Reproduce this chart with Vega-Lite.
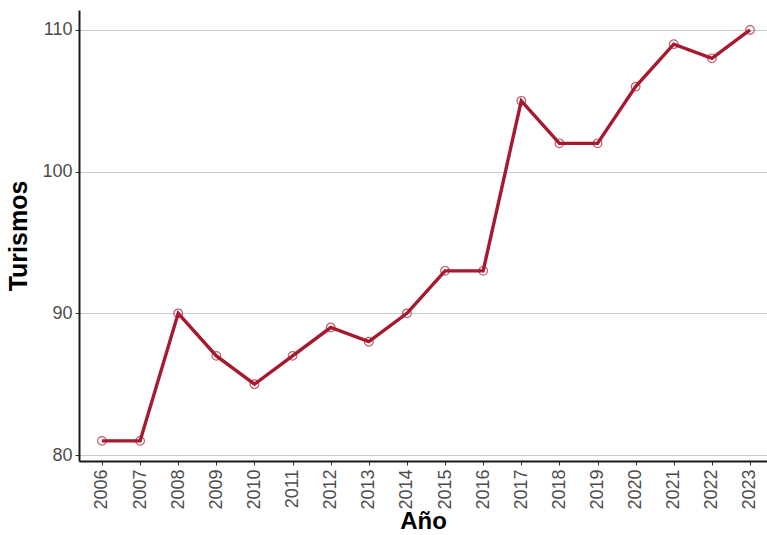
{
  "$schema": "https://vega.github.io/schema/vega-lite/v6.json",
  "autosize": "none",
  "padding": {"left": 79, "top": 10, "right": 0, "bottom": 74},
  "width": 688,
  "height": 451,
  "background": "white",
  "config": {"view": {"stroke": null}, "font": "Liberation Sans"},
  "data": {"values": [
    {"Año": 2006, "Turismos": 81},
    {"Año": 2007, "Turismos": 81},
    {"Año": 2008, "Turismos": 90},
    {"Año": 2009, "Turismos": 87},
    {"Año": 2010, "Turismos": 85},
    {"Año": 2011, "Turismos": 87},
    {"Año": 2012, "Turismos": 89},
    {"Año": 2013, "Turismos": 88},
    {"Año": 2014, "Turismos": 90},
    {"Año": 2015, "Turismos": 93},
    {"Año": 2016, "Turismos": 93},
    {"Año": 2017, "Turismos": 105},
    {"Año": 2018, "Turismos": 102},
    {"Año": 2019, "Turismos": 102},
    {"Año": 2020, "Turismos": 106},
    {"Año": 2021, "Turismos": 109},
    {"Año": 2022, "Turismos": 108},
    {"Año": 2023, "Turismos": 110}
  ]},
  "encoding": {
    "x": {
      "field": "Año", "type": "quantitative",
      "scale": {"domain": [2005.397, 2023.446], "nice": false, "zero": false},
      "axis": {
        "values": [2006,2007,2008,2009,2010,2011,2012,2013,2014,2015,2016,2017,2018,2019,2020,2021,2022,2023],
        "format": "d", "labelAngle": -90, "labelAlign": "right", "labelBaseline": "middle",
        "labelFontSize": 18, "labelColor": "#4d4d4d", "labelPadding": 4,
        "tickColor": "#333333", "tickSize": 4, "domainColor": "#1a1a1a", "domainWidth": 2,
        "grid": false, "title": "Año", "titleFontSize": 24, "titleFontWeight": "bold",
        "titleColor": "#000000", "titlePadding": 0
      }
    },
    "y": {
      "field": "Turismos", "type": "quantitative",
      "scale": {"domain": [79.58, 111.41], "nice": false, "zero": false},
      "axis": {
        "values": [80, 90, 100, 110],
        "labelFontSize": 18, "labelColor": "#4d4d4d", "labelPadding": 3,
        "tickColor": "#333333", "tickSize": 4, "domainColor": "#1a1a1a", "domainWidth": 2,
        "grid": true, "gridColor": "#cccccc", "gridWidth": 1,
        "title": "Turismos", "titleFontSize": 25, "titleFontWeight": "bold",
        "titleColor": "#000000", "titlePadding": 10
      }
    }
  },
  "layer": [
    {"mark": {"type": "line", "color": "#A6192E", "strokeWidth": 3.4}},
    {"mark": {"type": "point", "shape": "circle", "filled": false, "color": "#A6192E", "strokeWidth": 1.2, "size": 75}}
  ]
}
